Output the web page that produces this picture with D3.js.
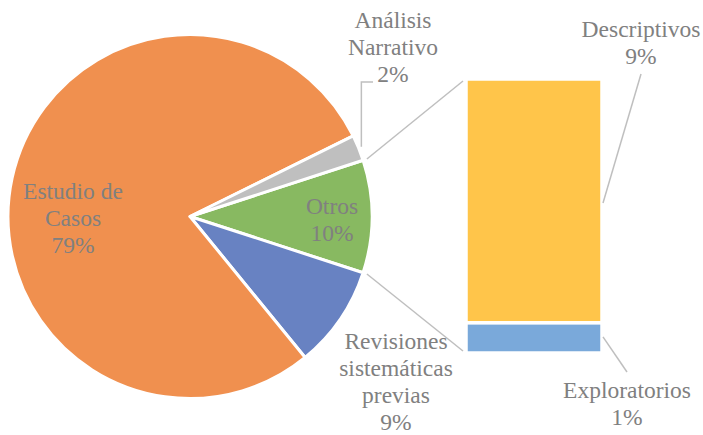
<!DOCTYPE html>
<html>
<head>
<meta charset="utf-8">
<script src="https://cdn.jsdelivr.net/npm/d3@7"></script>
<style>
  html, body { margin: 0; padding: 0; background: #fff; }
  svg { display: block; }
</style>
</head>
<body>
<div id="chart"></div>
<script>
// pie part (percent of all studies)
var pieNames = ['Estudio de Casos', 'Revisiones sistemáticas previas', 'Análisis Narrativo'];
var pieValues = [78.6, 9.1, 2.3];
var pieColors = ['#F0904F', '#6882C2', '#BFBFBF'];

// "Otros" broken out into the bar
var barNames = ['Descriptivos', 'Exploratorios'];
var barValues = [8.9, 1.1];
var barColors = ['#FFC54A', '#7AA9DA'];

var otherName = 'Otros';
var otherColor = '#88B961';

var width = 703, height = 435;
var cx = 190, cy = 216.5, radius = 182;
var bar = { x0: 466, x1: 602, top: 79, bottom: 353 };
var serif = "'Liberation Serif', 'Times New Roman', Tinos, serif";

var svg = d3.select('#chart').append('svg')
    .attr('width', width)
    .attr('height', height);

var otherTotal = d3.sum(barValues);

// clockwise from "Otros", which sits centred at 3 o'clock
var slices = [{ name: otherName, value: otherTotal, color: otherColor },
    { name: pieNames[1], value: pieValues[1], color: pieColors[1] },
    { name: pieNames[0], value: pieValues[0], color: pieColors[0] },
    { name: pieNames[2], value: pieValues[2], color: pieColors[2] }];

var total = d3.sum(slices, function(d) { return d.value; });
var half = Math.PI * otherTotal / total;
var start = Math.PI / 2 - half;

var pie = d3.pie()
    .sort(null)
    .value(function(d) { return d.value; })
    .startAngle(start)
    .endAngle(start + 2 * Math.PI);

var arcs = pie(slices);
var arc = d3.arc().innerRadius(0).outerRadius(radius);

function polar(a, r) {
    return [cx + r * Math.sin(a), cy - r * Math.cos(a)];
}

var pieG = svg.append('g').attr('transform', 'translate(' + cx + ',' + cy + ')');
pieG.selectAll('path')
    .data(arcs)
    .enter().append('path')
    .attr('d', arc)
    .attr('fill', function(d) { return d.data.color; })
    .attr('stroke', '#fff')
    .attr('stroke-width', 3)
    .attr('stroke-linejoin', 'round');

// bar of "Otros"
var y = d3.scaleLinear().domain([0, otherTotal]).range([bar.bottom, bar.top]);
var stack = [];
var acc = otherTotal;
barValues.forEach(function(v, i) {
    stack.push({ name: barNames[i], value: v, color: barColors[i], hi: acc, lo: acc - v });
    acc -= v;
});

svg.append('g').selectAll('rect')
    .data(stack)
    .enter().append('rect')
    .attr('x', bar.x0)
    .attr('width', bar.x1 - bar.x0)
    .attr('y', function(d) { return y(d.hi); })
    .attr('height', function(d) { return y(d.lo) - y(d.hi); })
    .attr('fill', function(d) { return d.color; })
    .attr('stroke', '#fff')
    .attr('stroke-width', 3.5);

// connector lines pie -> bar
var lineG = svg.append('g')
    .attr('fill', 'none')
    .attr('stroke', '#BFBFBF')
    .attr('stroke-width', 1.5);
var otherArc = arcs[0];
var p1 = polar(otherArc.startAngle, radius + 4);
var p2 = polar(otherArc.endAngle, radius + 4);
lineG.append('line')
    .attr('x1', p1[0]).attr('y1', p1[1])
    .attr('x2', bar.x0 - 3).attr('y2', y(otherTotal) + 2);
lineG.append('line')
    .attr('x1', p2[0]).attr('y1', p2[1])
    .attr('x2', bar.x0 - 3).attr('y2', y(0) - 2);

// leader lines
var an = arcs[3];
var aMid = (an.startAngle + an.endAngle) / 2;
var q = polar(aMid, radius + 3);
lineG.append('path').attr('d', 'M' + q[0] + ',' + q[1] + 'V82H373');
lineG.append('line')
    .attr('x1', 641).attr('y1', 74)
    .attr('x2', bar.x1 + 1).attr('y2', y(otherTotal - barValues[0] / 2) + 2);
lineG.append('line')
    .attr('x1', bar.x1 + 1).attr('y1', y(barValues[1] / 2) - 1)
    .attr('x2', 627).attr('y2', 372);

// labels
var fmt = function(v) { return Math.round(v / total * 100) + '%'; };
var labels = [
    { lines: ['Estudio de', 'Casos', fmt(pieValues[0])], x: 73, y: 199 },
    { lines: ['Revisiones', 'sistemáticas', 'previas', fmt(pieValues[1])], x: 396, y: 349 },
    { lines: ['Análisis', 'Narrativo', fmt(pieValues[2])], x: 393, y: 27.5 },
    { lines: [otherName, fmt(otherTotal)], x: 332, y: 213.5 },
    { lines: [barNames[0], fmt(barValues[0])], x: 641, y: 37 },
    { lines: [barNames[1], fmt(barValues[1])], x: 627, y: 398 }
];

var lab = svg.append('g')
    .selectAll('text')
    .data(labels)
    .enter().append('text')
    .attr('text-anchor', 'middle')
    .style('font-family', serif)
    .style('font-size', '23.5px')
    .style('fill', '#808080')
    .attr('x', function(d) { return d.x; })
    .attr('y', function(d) { return d.y; });
lab.selectAll('tspan')
    .data(function(d) { return d.lines.map(function(t) { return { t: t, x: d.x }; }); })
    .enter().append('tspan')
    .attr('x', function(d) { return d.x; })
    .attr('dy', function(d, i) { return i ? 27 : 0; })
    .text(function(d) { return d.t; });
</script>
</body>
</html>
